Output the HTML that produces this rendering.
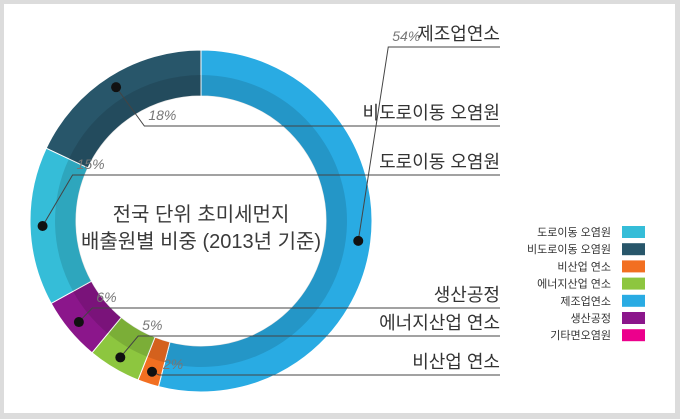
<!DOCTYPE html>
<html><head><meta charset="utf-8"><style>
body{margin:0;background:#dcdcdc;font-family:"Liberation Sans","Noto Sans CJK KR",sans-serif}
#wrap{position:relative;width:680px;height:419px;background:#dcdcdc}
svg{position:absolute;left:0;top:0}
</style></head><body>
<div id="wrap">
<svg id="chart" width="680" height="419">
<rect x="4" y="4" width="671" height="409" fill="#ffffff"/>
<g id="segs"></g><g id="callouts"></g><g id="legend"></g>
<text x="201" y="221" text-anchor="middle" font-size="20" fill="#3a3a3a">전국 단위 초미세먼지</text>
<text x="201" y="248" text-anchor="middle" font-size="20" fill="#3a3a3a">배출원별 비중 (2013년 기준)</text>
</svg>
</div>
<script>
const categories=["제조업연소","비산업 연소","에너지산업 연소","생산공정","도로이동 오염원","비도로이동 오염원"];
const values=[54,2,5,6,15,18];
const colors=["#29abe3","#f26f21","#8dc63f","#8b168b","#35bdd8","#28566a"];
const legendLabels=["도로이동 오염원","비도로이동 오염원","비산업 연소","에너지산업 연소","제조업연소","생산공정","기타면오염원"];
const legendColors=["#35bdd8","#28566a","#f26f21","#8dc63f","#29abe3","#8b168b","#ec008c"];
const labelY=[47,375,336,308,175,126];
const NS="http://www.w3.org/2000/svg";
const cx=201,cy=221,rO=171,rM=146,rI=125;
function pt(a,r){return [cx+r*Math.sin(a),cy-r*Math.cos(a)];}
function arc(a0,a1,r0,r1){const l=(a1-a0)>Math.PI?1:0;const p0=pt(a0,r1),p1=pt(a1,r1),p2=pt(a1,r0),p3=pt(a0,r0);
return `M${p0}A${r1},${r1} 0 ${l} 1 ${p1}L${p2}A${r0},${r0} 0 ${l} 0 ${p3}Z`;}
function mk(tag,at,parent){const e=document.createElementNS(NS,tag);for(const k in at)e.setAttribute(k,at[k]);parent.appendChild(e);return e;}
const total=values.reduce((a,b)=>a+b,0);
const segs=document.getElementById('segs'),co=document.getElementById('callouts'),lg=document.getElementById('legend');
let acc=0;
values.forEach((v,i)=>{
 const a0=acc/total*2*Math.PI,a1=(acc+v)/total*2*Math.PI;acc+=v;
 const p=mk('path',{d:arc(a0,a1,rI,rO),fill:colors[i],stroke:'#fff','stroke-width':1},segs);
 
 
 const s=mk('path',{d:arc(a0,a1,rI,rM),fill:'rgba(0,0,0,0.12)'},segs);
 
 
 // callout
 const mid=(a0+a1)/2;const [dx,dy]=pt(mid,(rM+rO)/2+ (i==0?-10:0)*0);
 const ly=labelY[i];
 const kx=dx+(ly<dy?1:1)*Math.min(30,Math.abs(ly-dy)*0.6+5);
 const ln=mk('polyline',{points:`${dx},${dy} ${kx},${ly} 500,${ly}`,fill:'none',stroke:'#444','stroke-width':1},co);
 
 
 const d=mk('circle',{cx:dx,cy:dy,r:5,fill:'#111'},co);
 
 
 const pc=mk('text',{x:kx+4,y:ly-6,'font-size':14,'font-style':'italic',fill:'#777'},co);
 pc.textContent=v+'%';
 
 
 const lb=mk('text',{x:500,y:ly-7,'font-size':18,'text-anchor':'end',fill:'#333'},co);
 lb.textContent=categories[i];
 
 
});
legendLabels.forEach((t,i)=>{
 const y=232+i*17.2;
 const r=mk('rect',{x:622,y:y-6,width:23,height:12,fill:legendColors[i]},lg);
 
 
 const tx=mk('text',{x:611,y:y+4,'font-size':11,'text-anchor':'end',fill:'#333'},lg);
 tx.textContent=t;
 
 
});
</script>
</body></html>
